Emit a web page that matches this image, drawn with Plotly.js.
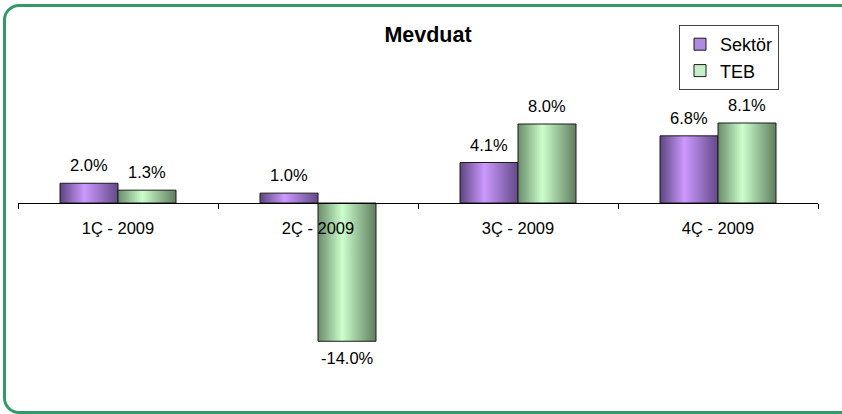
<!DOCTYPE html>
<html>
<head>
<meta charset="utf-8">
<script src="https://cdn.plot.ly/plotly-3.0.1.min.js"></script>
<style>
  html, body { margin: 0; padding: 0; background: #fff; overflow: hidden; }
  #wrap { position: relative; width: 842px; height: 414px; overflow: hidden; }
  #chart { position: absolute; left: 0; top: 0; width: 842px; height: 414px; }
  #frame { position: absolute; left: 3px; top: 4px; width: 850px; height: 404px;
           border: 3px solid #339966; border-radius: 16px; pointer-events: none; }
</style>
</head>
<body>
<div id="wrap">
  <div id="chart"></div>
  <div id="frame"></div>
</div>
<script>
// ---- data ----
const categories = ["1Ç - 2009", "2Ç - 2009", "3Ç - 2009", "4Ç - 2009"];
const sektor = [2.0, 1.0, 4.1, 6.8];
const teb = [1.3, -14.0, 8.0, 8.1];
const seriesNames = ["Sektör", "TEB"];
const chartTitle = "Mevduat";

// ---- style ----
const FONT = "Liberation Sans, Arial, sans-serif";
const W = 842, H = 414;
const margin = { l: 18, r: 24, t: 45, b: 53 };
const bargap = 0.42;
const yRange = [-16, 16];

const traces = [
  { name: seriesNames[0], values: sektor, color: "#b08ae0" },
  { name: seriesNames[1], values: teb, color: "#c8f0c8" }
].map(s => ({
  type: "bar",
  name: s.name,
  x: categories,
  y: s.values,
  marker: { color: s.color, line: { color: "#1a1a1a", width: 1 } },
  hoverinfo: "none"
}));

// value labels as annotations positioned via the axes
const plotW = W - margin.l - margin.r;
const plotH = H - margin.t - margin.b;
const catW = plotW / categories.length;
const barW = catW * (1 - bargap) / 2;
const annotations = [];
[sektor, teb].forEach((vals, si) => {
  vals.forEach((v, i) => {
    annotations.push({
      x: categories[i], y: v, xref: "x", yref: "y",
      text: v.toFixed(1) + "%",
      showarrow: false,
      xshift: (si === 0 ? -1 : 1) * barW / 2,
      yshift: v >= 0 ? 7 : -6,
      yanchor: v >= 0 ? "bottom" : "top",
      font: { family: FONT, size: 16.5, color: "#000" }
    });
  });
});

const layout = {
  width: W, height: H,
  margin: margin,
  paper_bgcolor: "rgba(0,0,0,0)",
  plot_bgcolor: "rgba(0,0,0,0)",
  barmode: "group",
  bargap: bargap,
  bargroupgap: 0,
  font: { family: FONT, size: 16, color: "#000" },
  title: {
    text: "<b>" + chartTitle + "</b>",
    font: { family: FONT, size: 21.5, color: "#000" },
    x: 428 / W, xanchor: "center", xref: "container",
    y: 1 - 34.5 / H, yanchor: "middle", yref: "container"
  },
  xaxis: {
    type: "category",
    anchor: "free", position: 0.5,
    showline: true, linecolor: "#000", linewidth: 1,
    ticks: "outside", ticklen: 5, tickcolor: "#000", tickwidth: 1,
    tickson: "boundaries",
    ticklabelstandoff: 10,
    showgrid: false, zeroline: false,
    tickfont: { family: FONT, size: 16.5, color: "#000" },
    fixedrange: true
  },
  yaxis: {
    range: yRange,
    visible: false,
    showgrid: false, zeroline: false,
    fixedrange: true
  },
  showlegend: true,
  legend: {
    x: (779 - margin.l) / plotW, xanchor: "right",
    y: (H - margin.b - 25) / plotH, yanchor: "top",
    bgcolor: "#fff", bordercolor: "#444", borderwidth: 1,
    font: { family: FONT, size: 18, color: "#000" },
    itemwidth: 30
  },
  annotations: annotations
};

Plotly.newPlot("chart", traces, layout, { displayModeBar: false, staticPlot: true }).then(gd => {
  // horizontal shading on bars, as in the reference
  const svg = gd.querySelector("svg.main-svg");
  const NS = "http://www.w3.org/2000/svg";
  const defs = document.createElementNS(NS, "defs");
  const grads = [
    { id: "gPurple", stops: [["0%", "#5e4580"], ["42%", "#cc99ff"], ["100%", "#634a88"]] },
    { id: "gGreen", stops: [["0%", "#6a8c6a"], ["42%", "#ccffcc"], ["100%", "#5f7d5f"]] }
  ];
  grads.forEach(g => {
    const lg = document.createElementNS(NS, "linearGradient");
    lg.setAttribute("id", g.id);
    lg.setAttribute("x1", "0"); lg.setAttribute("x2", "1");
    lg.setAttribute("y1", "0"); lg.setAttribute("y2", "0");
    g.stops.forEach(([o, c]) => {
      const st = document.createElementNS(NS, "stop");
      st.setAttribute("offset", o); st.setAttribute("stop-color", c);
      lg.appendChild(st);
    });
    defs.appendChild(lg);
  });
  svg.insertBefore(defs, svg.firstChild);
  const barTraces = gd.querySelectorAll(".barlayer .trace");
  barTraces.forEach((t, i) => {
    t.querySelectorAll("path").forEach(p => {
      p.style.fill = "url(#" + grads[i].id + ")";
    });
  });
});
</script>
</body>
</html>
